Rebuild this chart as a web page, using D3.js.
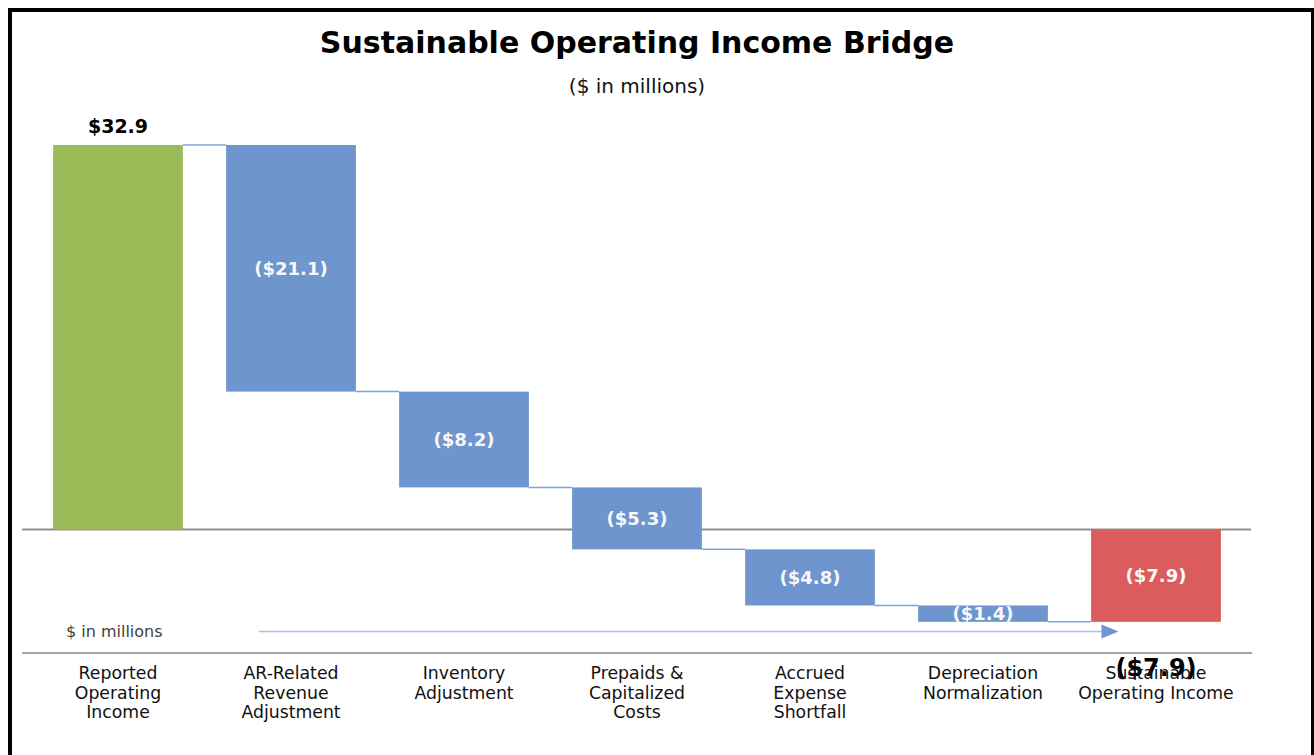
<!DOCTYPE html>
<html>
<head>
<meta charset="utf-8">
<script src="https://cdn.jsdelivr.net/npm/d3@7"></script>
<style>
  html, body { margin: 0; padding: 0; background: #ffffff; }
  svg { display: block; font-family: "DejaVu Sans", sans-serif; }
</style>
</head>
<body>
<svg id="chart" width="1314" height="755"></svg>
<script>
// Bridge steps, $ in millions
const categories = [
  "Reported Operating Income",
  "AR-Related Revenue Adjustment",
  "Inventory Adjustment",
  "Prepaids & Capitalized Costs",
  "Accrued Expense Shortfall",
  "Depreciation Normalization",
  "Sustainable Operating Income"
];
const categoryLines = [
  ["Reported", "Operating", "Income"],
  ["AR-Related", "Revenue", "Adjustment"],
  ["Inventory", "Adjustment"],
  ["Prepaids &", "Capitalized", "Costs"],
  ["Accrued", "Expense", "Shortfall"],
  ["Depreciation", "Normalization"],
  ["Sustainable", "Operating Income"]
];
const stepValues = [32.9, -21.1, -8.2, -5.3, -4.8, -1.4, -7.9];
const stepKinds = ["start", "delta", "delta", "delta", "delta", "delta", "total"];
const valueLabels = ["$32.9", "($21.1)", "($8.2)", "($5.3)", "($4.8)", "($1.4)", "($7.9)"];

const colors = { start: "#9bba58", delta: "#6e95ce", total: "#da5c5c" };

const svg = d3.select("#chart");

// outer frame
svg.append("rect")
  .attr("x", 10).attr("y", 10)
  .attr("width", 1303).attr("height", 800)
  .attr("fill", "none").attr("stroke", "#000").attr("stroke-width", 4);

// title block
svg.append("text")
  .attr("x", 637).attr("y", 53)
  .attr("text-anchor", "middle")
  .attr("font-size", 30).attr("font-weight", "bold").attr("fill", "#000")
  .text("Sustainable Operating Income Bridge");
svg.append("text")
  .attr("x", 637).attr("y", 93)
  .attr("text-anchor", "middle")
  .attr("font-size", 20).attr("fill", "#111")
  .text("($ in millions)");

// scales
const x = d3.scaleBand()
  .domain(categories)
  .range([31.5, 1242.5])
  .paddingInner(0.25)
  .paddingOuter(0.125);
const y = d3.scaleLinear().domain([0, 32.9]).range([529.5, 145]);

// compute floating segments
let running = 0;
const bars = stepValues.map((v, i) => {
  const kind = stepKinds[i];
  let lo, hi, end;
  if (kind === "start") { lo = 0; hi = v; end = v; }
  else if (kind === "total") { lo = Math.min(0, v); hi = Math.max(0, v); end = v; }
  else { const s = running; end = running + v; lo = Math.min(s, end); hi = Math.max(s, end); }
  running = end;
  return { cat: categories[i], kind, lo, hi, end, label: valueLabels[i], lines: categoryLines[i] };
});

// zero line and bottom axis line
svg.append("line")
  .attr("x1", 22).attr("x2", 1251)
  .attr("y1", y(0)).attr("y2", y(0))
  .attr("stroke", "#8f8f8f").attr("stroke-width", 2);
svg.append("line")
  .attr("x1", 22).attr("x2", 1252)
  .attr("y1", 653).attr("y2", 653)
  .attr("stroke", "#a3a3a3").attr("stroke-width", 2);

// connectors between consecutive bars
const connectors = bars.slice(0, -1).map((b, i) => ({
  x1: x(b.cat) + x.bandwidth(),
  x2: x(bars[i + 1].cat),
  level: b.end
}));
svg.append("g").selectAll("line")
  .data(connectors).join("line")
  .attr("x1", d => d.x1).attr("x2", d => d.x2)
  .attr("y1", d => y(d.level)).attr("y2", d => y(d.level))
  .attr("stroke", "#7fa2d8").attr("stroke-width", 1.5);

// bars
svg.append("g").selectAll("rect")
  .data(bars).join("rect")
  .attr("x", d => x(d.cat))
  .attr("width", x.bandwidth())
  .attr("y", d => y(d.hi))
  .attr("height", d => y(d.lo) - y(d.hi))
  .attr("fill", d => colors[d.kind]);

// value labels
svg.append("g").selectAll("text")
  .data(bars).join("text")
  .attr("x", d => x(d.cat) + x.bandwidth() / 2)
  .attr("y", d => d.kind === "start" ? y(d.hi) - 12 : (y(d.hi) + y(d.lo)) / 2)
  .attr("dy", d => d.kind === "start" ? 0 : "0.36em")
  .attr("text-anchor", "middle")
  .attr("font-size", d => d.kind === "start" ? 19 : 18)
  .attr("font-weight", "bold")
  .attr("fill", d => d.kind === "start" ? "#000" : "#f8f8f8")
  .text(d => d.label);

// ending total repeated beneath the final bar
const last = bars[bars.length - 1];
svg.append("text")
  .attr("x", x(last.cat) + x.bandwidth() / 2)
  .attr("y", 676)
  .attr("text-anchor", "middle")
  .attr("font-size", 24).attr("font-weight", "bold").attr("fill", "#000")
  .text(last.label);

// flow arrow with unit note
svg.append("text")
  .attr("x", 66).attr("y", 637)
  .attr("font-size", 16).attr("fill", "#404040")
  .text("$ in millions");
svg.append("line")
  .attr("x1", 259).attr("x2", 1103)
  .attr("y1", 631.5).attr("y2", 631.5)
  .attr("stroke", "#a9c0e6").attr("stroke-width", 1.5);
svg.append("path")
  .attr("d", "M1101.5,624.5 L1118.5,631.5 L1101.5,638.5 Z")
  .attr("fill", "#6e95ce");

// category labels
const catG = svg.append("g").selectAll("text")
  .data(bars).join("text")
  .attr("x", d => x(d.cat) + x.bandwidth() / 2)
  .attr("y", 679)
  .attr("text-anchor", "middle")
  .attr("font-size", 17.3).attr("fill", "#111");
catG.selectAll("tspan")
  .data(d => d.lines.map((t, i) => ({ t, i, cx: x(d.cat) + x.bandwidth() / 2 })))
  .join("tspan")
  .attr("x", d => d.cx)
  .attr("dy", d => d.i === 0 ? 0 : 19.6)
  .text(d => d.t);
</script>
</body>
</html>
